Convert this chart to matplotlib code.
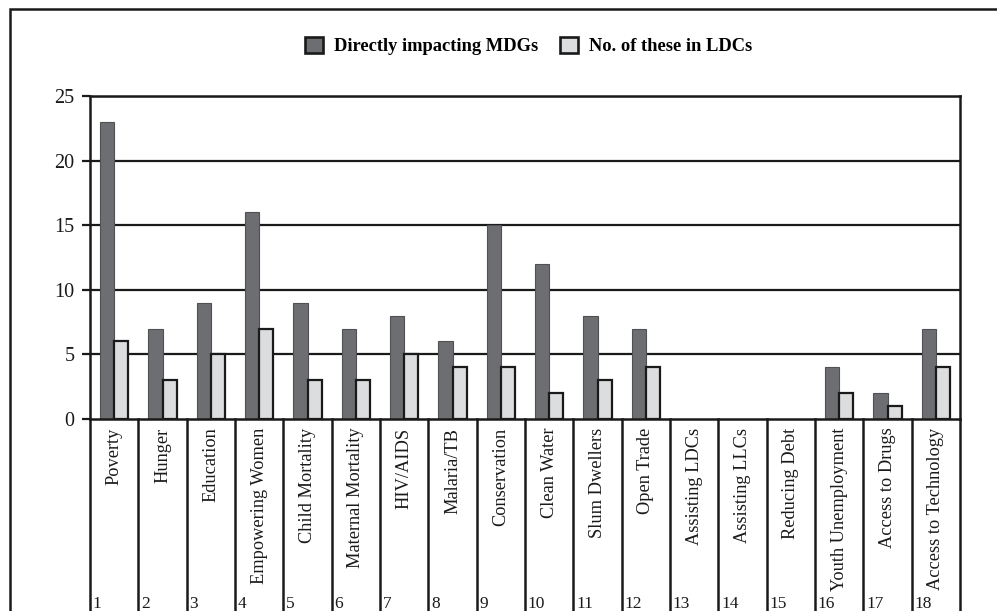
import matplotlib
matplotlib.use("Agg")
import matplotlib.pyplot as plt
from matplotlib.patches import Patch, Rectangle
import numpy as np

categories = ["Poverty", "Hunger", "Education", "Empowering Women", "Child Mortality",
              "Maternal Mortality", "HIV/AIDS", "Malaria/TB", "Conservation", "Clean Water",
              "Slum Dwellers", "Open Trade", "Assisting LDCs", "Assisting LLCs",
              "Reducing Debt", "Youth Unemployment", "Access to Drugs", "Access to Technology"]
direct_mdgs = [23, 7, 9, 16, 9, 7, 8, 6, 15, 12, 8, 7, 0, 0, 0, 4, 2, 7]
in_ldcs = [6, 3, 5, 7, 3, 3, 5, 4, 4, 2, 3, 4, 0, 0, 0, 2, 1, 4]
yticks = [0, 5, 10, 15, 20, 25]

DARK = "#6d6e71"
LIGHT = "#dcdddf"
INK = "#1a1a1a"

plt.rcParams['font.family'] = ['Liberation Serif', 'DejaVu Serif']

W, H = 997, 611
fig = plt.figure(figsize=(W / 100, H / 100), dpi=100)
ax = fig.add_axes([90 / W, (H - 419) / H, (960 - 90) / W, (419 - 96) / H])

n = len(categories)
x = np.arange(n)
bw = 0.29
dark_bars = ax.bar(x - bw / 2, direct_mdgs, bw, color=DARK, edgecolor="#505153",
                   linewidth=0.8, zorder=3)
light_bars = ax.bar(x + bw / 2, in_ldcs, bw, color=LIGHT, edgecolor=INK,
                    linewidth=1.6, zorder=3)
for bars, vals in ((dark_bars, direct_mdgs), (light_bars, in_ldcs)):
    for b, v in zip(bars, vals):
        if v == 0:
            b.set_linewidth(0)

ax.set_xlim(-0.5, n - 0.5)
ax.set_ylim(0, 25)
ax.set_yticks(yticks)
ax.set_xticks([])
for yv in yticks[1:]:
    ax.axhline(yv, color=INK, linewidth=1.6, zorder=1)
ax.tick_params(axis='y', direction='out', length=6, width=1.6, labelsize=14.5, pad=5, colors=INK)
for s in ax.spines.values():
    s.set_linewidth(1.8)
    s.set_color(INK)
    s.set_zorder(4)

# category table below the axis
trans = ax.get_xaxis_transform()
for k in range(n + 1):
    ax.plot([k - 0.5, k - 0.5], [0, -0.8], transform=trans, color=INK,
            linewidth=1.8, clip_on=False)
for i, cat in enumerate(categories):
    ax.text(i, -0.027, cat, transform=trans, rotation=90, ha='center', va='top',
            fontsize=13.2, color=INK)
    ax.text(i - 0.44, -0.548, str(i + 1), transform=trans, ha='left', va='top',
            fontsize=12.5, color=INK)

# legend
handles = [Patch(facecolor=DARK, edgecolor=INK, linewidth=1.9, label="Directly impacting MDGs"),
           Patch(facecolor=LIGHT, edgecolor=INK, linewidth=1.9, label="No. of these in LDCs")]
leg = fig.legend(handles=handles, loc='center', bbox_to_anchor=(528.5 / W, 1 - 46 / H),
                 ncol=2, frameon=False, handlelength=0.95, handleheight=0.95,
                 handletextpad=0.6, columnspacing=1.2,
                 prop={'family': 'Liberation Serif', 'weight': 'bold', 'size': 13.3})

# outer frame
fig.patches.append(Rectangle((10 / W, -0.2), 1.2, 1.2 - 9 / H, transform=fig.transFigure,
                             fill=False, edgecolor=INK, linewidth=1.8))

fig.savefig("out.png", dpi=100, facecolor="white")
